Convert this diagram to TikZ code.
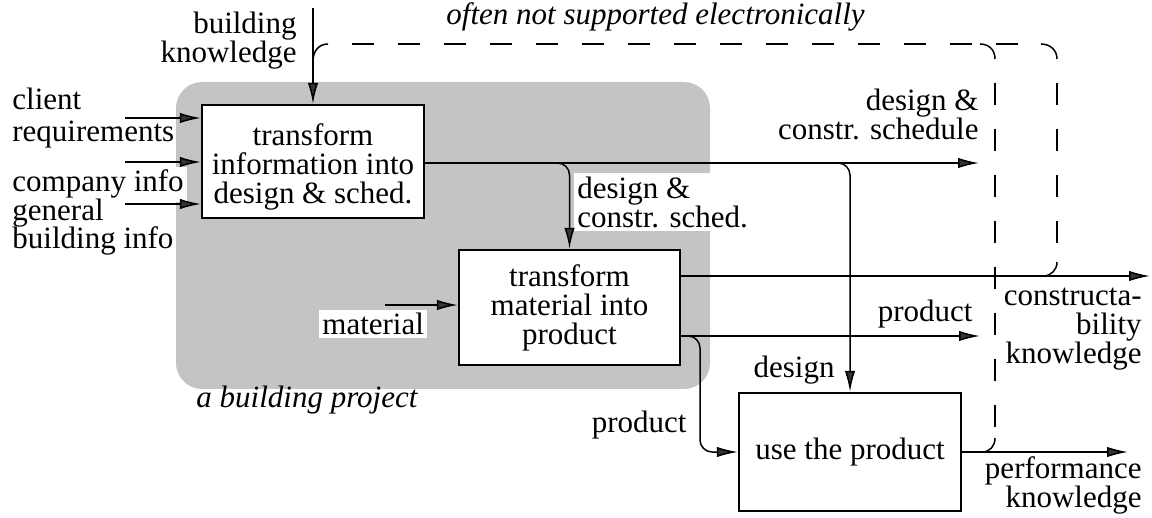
\documentclass[tikz,border=0pt]{standalone}
\usepackage{fontspec}
\setmainfont{Liberation Serif}
\usetikzlibrary{arrows.meta}
\newcommand\tstrut{\rule{0pt}{11pt}}
\begin{document}
\begin{tikzpicture}[x=0.5pt,y=-0.5pt,
  every node/.style={font=\fontsize{15.5}{14.5}\selectfont},
  lbl/.style={inner sep=0pt},
  wlbl/.style={fill=white,inner sep=1.5pt},
  procbox/.style={draw,line width=1.2pt,fill=white,inner sep=0pt,align=center},
  conn/.style={line width=0.75pt,-{Latex[length=10.5pt,width=5.2pt,fill=black!80]}},
  dashline/.style={line width=0.75pt,dash pattern=on 11pt off 12pt,dash phase=11pt},
  bendline/.style={line width=0.75pt},
  shadearea/.style={fill=black!23}]
\useasboundingbox (0,0) rectangle (1152,518);

% shaded building-project region
\fill[shadearea,rounded corners=13pt] (176,82) rectangle (710,389);

% labels (drawn before connectors so white backgrounds never hide lines)
\node[lbl,align=right,anchor=north east] (lbk) at (297,11) {\tstrut building\\knowledge};
\node[lbl,align=left,anchor=north west] (lcr) at (12,87) {\tstrut client\\[1.5pt]requirements};
\node[wlbl,anchor=base west] (lci) at (9,192) {company info};
\node[lbl,align=left,anchor=north west] (lgb) at (12,198) {\tstrut general\\[-0.5pt]building info};
\node[wlbl,align=left,anchor=north west] (lds1) at (574,173) {\tstrut design \&\\constr. sched.};
\node[lbl,align=right,anchor=north east] (lds2) at (979,88) {\tstrut design \&\\constr. schedule};
\node[lbl,anchor=base east] (lp1) at (973,322) {product};
\node[lbl,anchor=base east] (ldes) at (835,378) {design};
\node[lbl,anchor=base east] (lp2) at (687,432) {product};
\node[lbl,align=right,anchor=north east] (lck) at (1142,283) {\tstrut constructa-\\bility\\knowledge};
\node[lbl,align=right,anchor=north east] (lpk) at (1142,456) {\tstrut performance\\knowledge};
\node[wlbl,anchor=base west] (lmat) at (319,335) {material};
\node[lbl,anchor=base west,font=\fontsize{15.5}{14.5}\selectfont\itshape] (lbp) at (196,408) {a building project};
\node[lbl,anchor=base east,font=\fontsize{15.5}{14.5}\selectfont\itshape] (lns) at (865,25) {often not supported electronically};

% process boxes
\node[procbox,minimum width=111pt,minimum height=56.5pt] (b1) at (313,161.5)
  {\rule{0pt}{16.5pt}transform\\information into\\design \& sched.};
\node[procbox,minimum width=110.5pt,minimum height=57.5pt] (b2) at (569.5,307.5)
  {transform\\material into\\product};
\node[procbox,minimum width=111pt,minimum height=59pt] (b3) at (850,452)
  {use the product};

% free ends
\coordinate (bk) at (313,8);
\coordinate (i1) at (125,118);
\coordinate (i2) at (125,162);
\coordinate (i3) at (125,204);
\coordinate (o1) at (979,163);
\coordinate (o2) at (1150,276);
\coordinate (o3) at (980,336);
\coordinate (o4) at (1128,452);
\coordinate (mat) at (385,305);
\coordinate (pk) at (700,452);

% inputs
\draw[conn] (bk) -- (b1.north);
\draw[conn] (i1) -- (i1 -| b1.west);
\draw[conn] (i2) -- (i2 -| b1.west);
\draw[conn] (i3) -- (i3 -| b1.west);
\draw[conn] (mat) -- (mat -| b2.west);

% outputs of box 1
\draw[conn] (b1.east |- o1) -- (o1);
\draw[conn,rounded corners=6pt] (b1.east |- o1) -| (b2.north);
\draw[conn,rounded corners=6pt] (b1.east |- o1) -| (b3.north);

% outputs of box 2
\draw[conn] (b2.east |- o2) -- (o2);
\draw[conn] (b2.east |- o3) -- (o3);
\draw[conn,rounded corners=6pt] (b2.east |- o3) -| (pk) -- (b3.west);

% output of box 3
\draw[conn] (b3.east) -- (o4);

% feedback (dashed) lines
\coordinate (kj) at (313,61);
\coordinate (t0) at (328,44);
\coordinate (t1) at (980,44);
\coordinate (t2) at (1041,44);
\coordinate (v1t) at (995,59);
\coordinate (v1b) at (995,438);
\coordinate (pj) at (982,452);
\coordinate (v2t) at (1057,59);
\coordinate (v2b) at (1057,262);
\coordinate (cj) at (1043,276);

\draw[dashline] (t0) -- (t2);
\draw[dashline] (v1t) -- (v1b);
\draw[dashline] (v2t) -- (v2b);
\draw[bendline] (kj) .. controls +(0,-10) and +(-9,0) .. (t0);
\draw[bendline] (t1) .. controls +(9,0) and +(0,-9) .. (v1t);
\draw[bendline] (t2) .. controls +(9,0) and +(0,-9) .. (v2t);
\draw[bendline] (v2b) .. controls +(0,8) and +(8,0) .. (cj);
\draw[bendline] (v1b) .. controls +(0,8) and +(8,0) .. (pj);
\end{tikzpicture}
\end{document}
